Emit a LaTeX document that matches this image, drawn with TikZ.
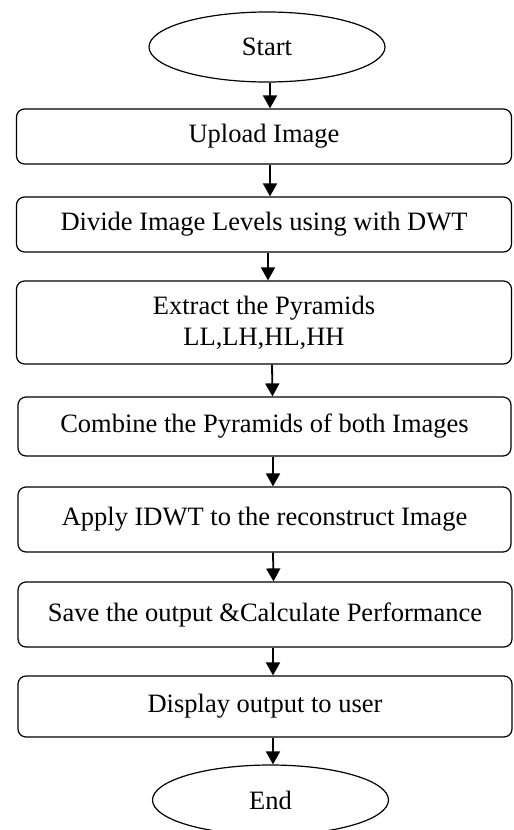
\documentclass[tikz,border=0pt]{standalone}
\usepackage{fontspec}
\setmainfont{Liberation Serif}
\usetikzlibrary{shapes.geometric,arrows.meta}
\begin{document}
\begin{tikzpicture}[x=1pt,y=-1pt,
  font=\fontsize{26.5}{31}\selectfont,
  terminal/.style={draw,line width=1.2pt,ellipse,inner sep=0pt,
    minimum width=236pt,minimum height=70pt},
  stepbox/.style={draw,line width=1.2pt,rounded corners=8pt,inner sep=0pt,
    minimum width=495pt,align=center},
  arr/.style={line width=1.8pt,-{Triangle[length=13pt,width=14pt]}}]
\useasboundingbox (0,0) rectangle (514,830);

% terminals
\node[terminal] (start) at (267,47) {Start};
\node[terminal] (end)   at (270.5,800) {End};

% process steps
\node[stepbox,minimum height=55pt] (upload)  at (264,136.5) {Upload Image};
\node[stepbox,minimum height=55pt] (divide)  at (264,224.5) {Divide Image Levels using with DWT};
\node[stepbox,minimum height=83pt] (extract) at (264,322.5) {Extract the Pyramids\\LL,LH,HL,HH};
\node[stepbox,minimum height=59pt,minimum width=493pt] (combine) at (264.5,426.5) {Combine the Pyramids of both Images};
\node[stepbox,minimum height=65pt,minimum width=493pt] (apply)   at (264.5,519.5) {Apply IDWT to the reconstruct Image};
\node[stepbox,minimum height=65pt,minimum width=494pt] (save)    at (265,614.5) {Save the output \&Calculate Performance};
\node[stepbox,minimum height=61pt,minimum width=494pt] (display) at (265,706.5) {Display output to user};

% flow
\draw[arr] ([xshift=3pt]start.south)     -- ([xshift=6pt]upload.north);
\draw[arr] ([xshift=6pt]upload.south)    -- ([xshift=6pt]divide.north);
\draw[arr] ([xshift=4pt]divide.south)    -- ([xshift=4pt]extract.north);
\draw[arr] ([xshift=8pt]extract.south)   -- ([xshift=8pt]combine.north);
\draw[arr] ([xshift=8.5pt]combine.south) -- ([xshift=8.5pt]apply.north);
\draw[arr] ([xshift=8.5pt]apply.south)   -- ([xshift=8.5pt]save.north);
\draw[arr] ([xshift=8pt]save.south)      -- ([xshift=8pt]display.north);
\draw[arr] ([xshift=8pt]display.south)   -- ([xshift=2.5pt]end.north);
\end{tikzpicture}
\end{document}
